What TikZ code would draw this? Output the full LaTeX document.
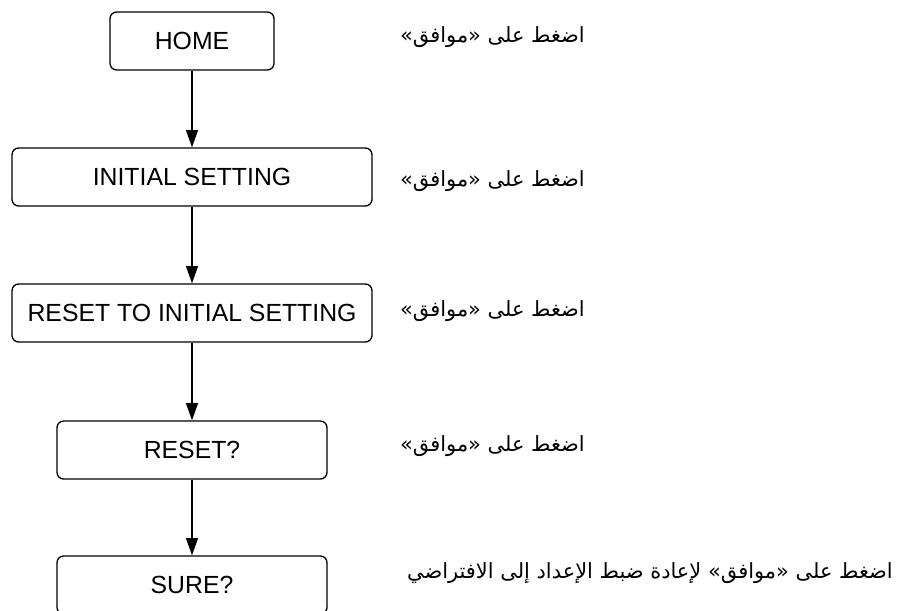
\documentclass[tikz,border=0pt]{standalone}
\usepackage{fontspec}
\setmainfont{Liberation Sans}
\newfontfamily\arabicfont[Script=Arabic]{DejaVu Sans}
\TeXXeTstate=1
\usetikzlibrary{arrows.meta}

\begin{document}
\begin{tikzpicture}[x=0.75pt,y=-0.75pt,>={Triangle[length=13pt,width=9pt]},
  stepbox/.style={draw,line width=1pt,rounded corners=5pt,minimum height=43.5pt,inner sep=0pt,font=\fontsize{18.6}{22}\selectfont},
  note/.style={anchor=east,inner sep=0pt,font=\arabicfont\fontsize{15.7}{19}\selectfont}]
\clip (0,0) rectangle (912,610);
\node[stepbox,minimum width=123pt] (home) at (192,41) {HOME};
\node[stepbox,minimum width=270pt] (init) at (192,177) {INITIAL SETTING};
\node[stepbox,minimum width=270pt] (resetinit) at (192,313) {RESET TO INITIAL SETTING};
\node[stepbox,minimum width=202.5pt] (reset) at (192,450) {RESET?};
\node[stepbox,minimum width=202.5pt] (sure) at (192,585) {SURE?};
\draw[->,line width=1pt] (home) -- (init);
\draw[->,line width=1pt] (init) -- (resetinit);
\draw[->,line width=1pt] (resetinit) -- (reset);
\draw[->,line width=1pt] (reset) -- (sure);
\node[note] (okhome) at (585,37) {\beginR اضغط على «موافق»\endR};
\node[note] (okinit) at (585,181) {\beginR اضغط على «موافق»\endR};
\node[note] (okresetinit) at (585,311) {\beginR اضغط على «موافق»\endR};
\node[note] (okreset) at (585,446) {\beginR اضغط على «موافق»\endR};
\node[note] (oksure) at (893,573) {\beginR اضغط على «موافق» لإعادة ضبط الإعداد إلى الافتراضي\endR};
\end{tikzpicture}
\end{document}
